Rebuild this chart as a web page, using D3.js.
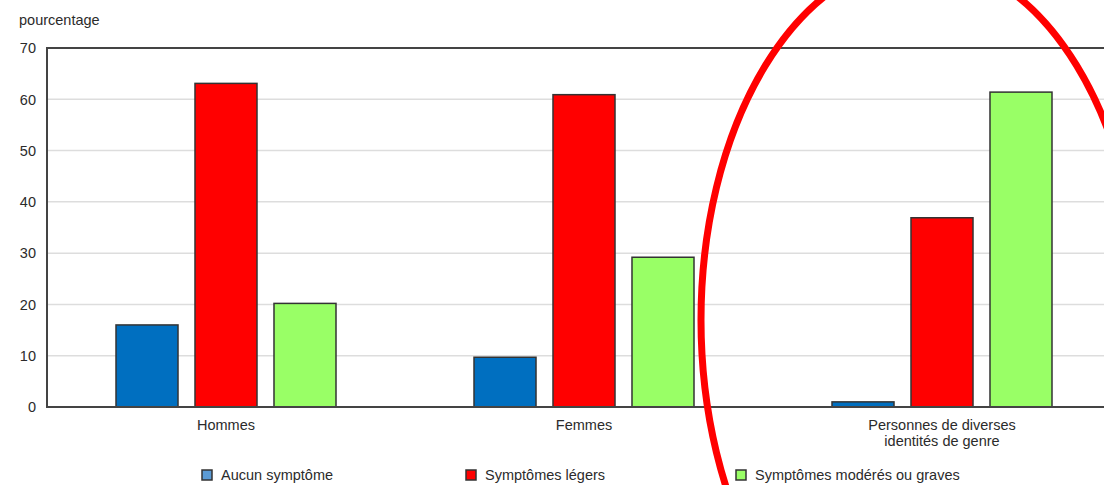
<!DOCTYPE html>
<html>
<head>
<meta charset="utf-8">
<script src="https://cdn.jsdelivr.net/npm/d3@7"></script>
<style>
  body { margin: 0; background: #fff; }
  text { font-family: "Liberation Sans", Arial, sans-serif; fill: #2b2b2b; }
</style>
</head>
<body>
<script>
// data
var categories = ["Hommes", "Femmes", "Personnes de diverses\nidentités de genre"];
var series = ["Aucun symptôme", "Symptômes légers", "Symptômes modérés ou graves"];
var aucun = [16.0, 9.7, 1.0];
var legers = [63.1, 60.9, 36.9];
var moderes = [20.2, 29.2, 61.4];
var yTicks = [0, 10, 20, 30, 40, 50, 60, 70];
var colors = ["#006fc0", "#ff0000", "#99ff66"];

var width = 1104, height = 485;
var margin = {top: 48, left: 47, bottom: 78};
var plotRight = 1121; // plot runs past the window edge like the reference

var svg = d3.select("body")
    .append("svg")
    .attr("width", width)
    .attr("height", height);

var x0 = d3.scaleBand()
    .domain(categories)
    .range([margin.left, plotRight]);

var x1 = d3.scaleBand()
    .domain(series)
    .range([-110, 110])
    .paddingInner(0.215);

var y = d3.scaleLinear()
    .domain([0, 70])
    .range([height - margin.bottom, margin.top]);

// gridlines
svg.append("g")
    .selectAll("line")
    .data(yTicks.filter(function(d){ return d > 0 && d < 70; }))
    .enter()
    .append("line")
    .attr("x1", margin.left)
    .attr("x2", plotRight)
    .attr("y1", function(d){ return y(d); })
    .attr("y2", function(d){ return y(d); })
    .attr("stroke", "#dddddd")
    .attr("stroke-width", 1.5);

// y tick labels
svg.append("g")
    .selectAll("text")
    .data(yTicks)
    .enter()
    .append("text")
    .attr("x", 36)
    .attr("y", function(d){ return y(d); })
    .attr("dy", "0.36em")
    .attr("text-anchor", "end")
    .attr("font-size", 14.5)
    .text(function(d){ return d; });

svg.append("text")
    .attr("x", 19)
    .attr("y", 25)
    .attr("font-size", 14.5)
    .text("pourcentage");

// bars
var rows = categories.map(function(c, i){
    return [aucun[i], legers[i], moderes[i]].map(function(v, j){
        return {cat: c, key: series[j], value: v, color: colors[j]};
    });
});

svg.append("g")
    .selectAll("g")
    .data(rows)
    .enter()
    .append("g")
    .attr("transform", function(d){ return "translate(" + (x0(d[0].cat) + x0.bandwidth() / 2) + ",0)"; })
    .selectAll("rect")
    .data(function(d){ return d; })
    .enter()
    .append("rect")
    .attr("x", function(d){ return x1(d.key); })
    .attr("width", x1.bandwidth())
    .attr("y", function(d){ return y(d.value); })
    .attr("height", function(d){ return y(0) - y(d.value); })
    .attr("fill", function(d){ return d.color; })
    .attr("stroke", "#333")
    .attr("stroke-width", 1.5);

// frame: left, top, baseline
svg.append("path")
    .attr("d", "M" + plotRight + "," + y(70) + "H" + margin.left + "V" + y(0) + "H" + plotRight)
    .attr("fill", "none")
    .attr("stroke", "#444")
    .attr("stroke-width", 2);

// category labels
var catLabels = svg.append("g")
    .selectAll("text")
    .data(categories)
    .enter()
    .append("text")
    .attr("x", function(d){ return x0(d) + x0.bandwidth() / 2; })
    .attr("y", y(0) + 23)
    .attr("text-anchor", "middle")
    .attr("font-size", 14.5);

catLabels.selectAll("tspan")
    .data(function(d){ return d.split("\n"); })
    .enter()
    .append("tspan")
    .attr("x", function(){ return this.parentNode.getAttribute("x"); })
    .attr("dy", function(d, i){ return i === 0 ? 0 : 16; })
    .text(function(d){ return d; });

// legend
var legendX = [202, 466, 736];
var legend = svg.append("g")
    .selectAll("g")
    .data(series)
    .enter()
    .append("g")
    .attr("transform", function(d, i){ return "translate(" + legendX[i] + ",470)"; });

legend.append("rect")
    .attr("width", 10)
    .attr("height", 10)
    .attr("fill", function(d, i){ return i === 0 ? "#5b9bd5" : colors[i]; })
    .attr("stroke", "#333")
    .attr("stroke-width", 1.5);

legend.append("text")
    .attr("x", 19)
    .attr("y", 5)
    .attr("dy", "0.36em")
    .attr("font-size", 14.5)
    .text(function(d){ return d; });

// red hand-drawn ellipse highlighting the third group
svg.append("ellipse")
    .attr("cx", 921)
    .attr("cy", 320)
    .attr("rx", 220)
    .attr("ry", 360)
    .attr("fill", "none")
    .attr("stroke", "#ff0000")
    .attr("stroke-width", 7);
</script>
</body>
</html>
